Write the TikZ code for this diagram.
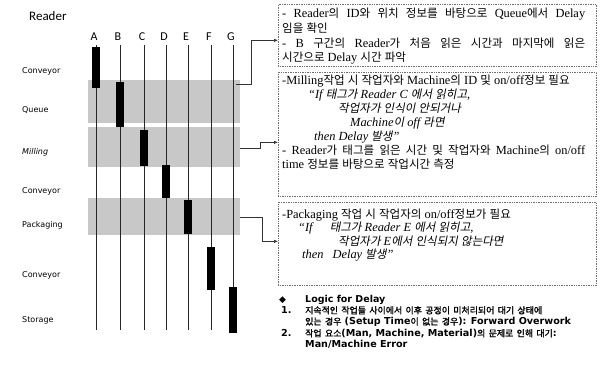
\documentclass[tikz,border=0pt]{standalone}
\usepackage{fontspec}
\setmainfont{Liberation Serif}
\setsansfont{DejaVu Sans}
\newfontfamily\krfamily{Noto Sans CJK KR}[Scale=0.93, ItalicFont={Noto Sans CJK KR}, ItalicFeatures={FakeSlant=0.2}, BoldFont={Noto Sans CJK KR}, BoldFeatures={FakeBold=1.5}]
\newfontfamily\readerfont{Carlito}
\usetikzlibrary{arrows.meta}
% Hangul runs switch to the Korean font by themselves
\XeTeXinterchartokenstate=1
\newXeTeXintercharclass\hangulclass
\newcount\hgcount
\hgcount="AC00
\loop\XeTeXcharclass\hgcount=\hangulclass\ifnum\hgcount<"D7A3 \advance\hgcount by 1 \repeat
\def\latinback{\rmfamily}
\XeTeXinterchartoks 0 \hangulclass = {\krfamily}
\XeTeXinterchartoks 4095 \hangulclass = {\krfamily}
\XeTeXinterchartoks \hangulclass 0 = {\latinback}
\XeTeXinterchartoks \hangulclass 4095 = {\latinback}
\newcommand\fullline[1]{\makebox[303pt][s]{#1}}
\definecolor{bandgray}{RGB}{200, 200, 200}
\definecolor{boxgray}{RGB}{110, 110, 110}
\tikzset{
	letter/.style={font=\readerfont\fontsize{12}{12}\selectfont, inner sep=0pt},
	stage/.style={anchor=west, font=\sffamily\fontsize{8}{8}\selectfont, inner sep=0pt},
	band/.style={rectangle, fill=bandgray, draw=none, anchor=north west, inner sep=0pt, minimum width=152pt},
	bar/.style={rectangle, fill=black, draw=none, anchor=north, inner sep=0pt, minimum width=7.5pt},
	readerline/.style={line width=0.9pt, draw=black!85},
	infobox/.style={rectangle, draw=boxgray, densely dotted, line width=0.7pt, anchor=north west, inner sep=0pt, minimum width=318pt},
	boxtext/.style={anchor=north west, align=left, inner sep=0pt, font=\fontsize{12.4}{14}\selectfont},
	logictext/.style={anchor=north west, align=left, inner sep=0pt, font=\def\latinback{\sffamily}\sffamily\bfseries\fontsize{9.6}{11.2}\selectfont},
	link/.style={-{Latex[length=4pt, width=3.5pt]}, line width=0.7pt, draw=black!80},
}
\begin{document}
\begin{tikzpicture}[x=1pt, y=-1pt]
		\useasboundingbox (0,0) rectangle (614,372);
		% stages and bands
		\node[band, minimum height=43pt] (queueband) at (88,80) {};
		\node[band, minimum height=40pt] (millband) at (88,127) {};
		\node[band, minimum height=37pt] (packband) at (88,198) {};
		\node[anchor=west, font=\readerfont\fontsize{13}{13}\selectfont, inner sep=0pt] (reader) at (29,16) {Reader};
		\node[stage] (conv1) at (22,71) {Conveyor};
		\node[stage] (queue) at (22,110) {Queue};
		\node[stage] (mill) at (22,152) {\itshape Milling};
		\node[stage] (conv2) at (22,191) {Conveyor};
		\node[stage] (pack) at (22,225) {Packaging};
		\node[stage] (conv3) at (22,275) {Conveyor};
		\node[stage] (store) at (22,320) {Storage};
		% readers
		\node[letter] (rA) at (94,37) {A};
		\node[letter] (rB) at (118,37) {B};
		\node[letter] (rC) at (142,37) {C};
		\node[letter] (rD) at (164,37) {D};
		\node[letter] (rE) at (186,37) {E};
		\node[letter] (rF) at (209,37) {F};
		\node[letter] (rG) at (231,37) {G};
		\coordinate (endA) at (96,330);
		\coordinate (endB) at (120,330);
		\coordinate (endC) at (144,330);
		\coordinate (endD) at (166,330);
		\coordinate (endE) at (188,330);
		\coordinate (endF) at (211,330);
		\coordinate (endG) at (233,333);
		\draw[readerline] (rA.south -| endA) ++(0,4) -- (endA);
		\draw[readerline] (rB.south -| endB) ++(0,4) -- (endB);
		\draw[readerline] (rC.south -| endC) ++(0,4) -- (endC);
		\draw[readerline] (rD.south -| endD) ++(0,4) -- (endD);
		\draw[readerline] (rE.south -| endE) ++(0,4) -- (endE);
		\draw[readerline] (rF.south -| endF) ++(0,4) -- (endF);
		\draw[readerline] (rG.south -| endG) ++(0,4) -- (endG);
		\node[bar, minimum height=41pt] (barA) at (96,47) {};
		\node[bar, minimum height=45pt] (barB) at (120,82) {};
		\node[bar, minimum height=36pt] (barC) at (144,130) {};
		\node[bar, minimum height=33pt] (barD) at (166,165) {};
		\node[bar, minimum height=34pt] (barE) at (188,200) {};
		\node[bar, minimum height=43pt] (barF) at (211,247) {};
		\node[bar, minimum height=46pt] (barG) at (233,287) {};
		% notes
		\node[infobox, minimum height=62pt] (box1) at (278,4) {};
		\node[infobox, minimum height=124pt] (box2) at (278,72) {};
		\node[infobox, minimum height=83pt] (box3) at (278,202) {};
		\node[boxtext, font=\fontsize{12.4}{14.7}\selectfont] (txt1) at (282,8) {\fullline{- Reader의 ID와 위치 정보를 바탕으로 Queue에서 Delay}\\
			임을 확인\\
			\fullline{- B 구간의 Reader가 처음 읽은 시간과 마지막에 읽은}\\
			시간으로 Delay 시간 파악};
		\node[boxtext] (txt2) at (282,75) {-Milling작업 시 작업자와 Machine의 ID 및 on/off정보 필요\\
			\hspace*{26pt}\itshape “If 태그가 Reader C 에서 읽히고,\\
			\hspace*{56pt}\itshape 작업자가 인식이 안되거나\\
			\hspace*{68pt}\itshape Machine이 off 라면\\
			\hspace*{32pt}\itshape then Delay 발생”\\
			\fullline{- Reader가 태그를 읽은 시간 및 작업자와 Machine의 on/off}\\
			time 정보를 바탕으로 작업시간 측정};
		\node[boxtext, font=\fontsize{12.4}{13.2}\selectfont] (txt3) at (282,209) {-Packaging 작업 시 작업자의 on/off정보가 필요\\
			\hspace*{16pt}\itshape “If\hspace*{14pt} 태그가 Reader E 에서 읽히고,\\
			\hspace*{56pt}\itshape 작업자가 E에서 인식되지 않는다면\\
			\hspace*{20pt}\itshape then\hspace*{6pt} Delay 발생”};
		% logic
		\node[anchor=west, inner sep=0pt, font=\sffamily\fontsize{9}{9}\selectfont] (diam) at (279,300) {◆};
		\node[logictext, anchor=west, font=\sffamily\bfseries\fontsize{9.5}{10}\selectfont] (logic) at (305,300) {Logic for Delay};
		\node[logictext] (num1) at (281,306) {1.};
		\node[logictext] (item1) at (305,306) {지속적인 작업들 사이에서 이후 공정이 미처리되어 대기 상태에\\
			있는 경우 (Setup Time이 없는 경우): Forward Overwork};
		\node[logictext] (num2) at (281,329) {2.};
		\node[logictext] (item2) at (305,329) {작업 요소(Man, Machine, Material)의 문제로 인해 대기:\\
			Man/Machine Error};
		% links
		\coordinate (qout) at (236,84);
		\coordinate (mout) at (240,148);
		\coordinate (pout) at (240,217);
		\draw[link] (qout) -- ++(15,0) |- ([yshift=-5pt]box1.west);
		\draw[link] (mout) -- ++(20,0) |- ([yshift=-8pt]box2.west);
		\draw[link] (pout) -- ++(22,0) |- ([yshift=2.5pt]box3.west);
	\end{tikzpicture}
\end{document}
